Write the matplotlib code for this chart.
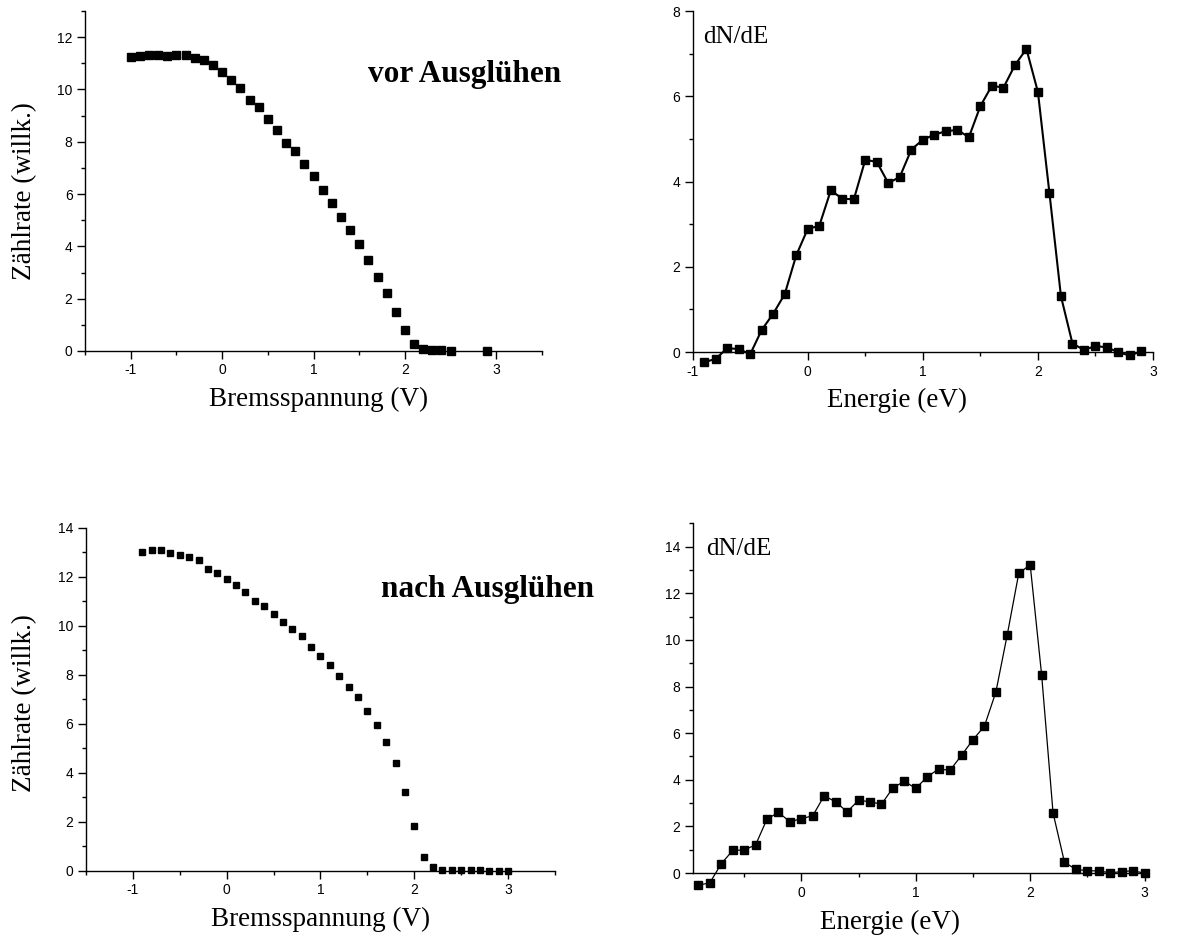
import matplotlib
matplotlib.use("Agg")
import matplotlib.pyplot as plt
from matplotlib.ticker import MultipleLocator

plt.rcParams["axes.unicode_minus"] = False

# ---- data ----
# top left: Zaehlrate vor Ausgluehen
u_vor = [-1.0, -0.9, -0.8, -0.7, -0.6, -0.5, -0.4, -0.3, -0.2, -0.1,
         0.0, 0.1, 0.2, 0.3, 0.4, 0.5, 0.6, 0.7, 0.8, 0.9,
         1.0, 1.1, 1.2, 1.3, 1.4, 1.5, 1.6, 1.7, 1.8, 1.9,
         2.0, 2.1, 2.2, 2.3, 2.4, 2.5, 2.9]
n_vor = [11.26, 11.29, 11.32, 11.33, 11.29, 11.32, 11.32, 11.22, 11.13, 10.94,
         10.67, 10.35, 10.07, 9.60, 9.34, 8.87, 8.45, 7.97, 7.65, 7.15,
         6.69, 6.14, 5.66, 5.11, 4.61, 4.09, 3.47, 2.83, 2.22, 1.49,
         0.79, 0.28, 0.06, 0.03, 0.02, 0.01, 0.01]

# top right: dN/dE vor Ausgluehen
e_vor = [-0.9, -0.8, -0.7, -0.6, -0.5, -0.4, -0.3, -0.2, -0.1,
         0.0, 0.1, 0.2, 0.3, 0.4, 0.5, 0.6, 0.7, 0.8, 0.9,
         1.0, 1.1, 1.2, 1.3, 1.4, 1.5, 1.6, 1.7, 1.8, 1.9,
         2.0, 2.1, 2.2, 2.3, 2.4, 2.5, 2.6, 2.7, 2.8, 2.9]
d_vor = [-0.24, -0.16, 0.09, 0.07, -0.05, 0.52, 0.90, 1.36, 2.27,
         2.89, 2.96, 3.79, 3.60, 3.58, 4.51, 4.46, 3.96, 4.11, 4.75,
         4.98, 5.10, 5.18, 5.21, 5.04, 5.77, 6.25, 6.20, 6.73, 7.11,
         6.10, 3.73, 1.31, 0.20, 0.05, 0.14, 0.11, -0.01, -0.08, 0.02]

# bottom left: Zaehlrate nach Ausgluehen
u_nach = [-0.9, -0.8, -0.7, -0.6, -0.5, -0.4, -0.3, -0.2, -0.1,
          0.0, 0.1, 0.2, 0.3, 0.4, 0.5, 0.6, 0.7, 0.8, 0.9,
          1.0, 1.1, 1.2, 1.3, 1.4, 1.5, 1.6, 1.7, 1.8, 1.9,
          2.0, 2.1, 2.2, 2.3, 2.4, 2.5, 2.6, 2.7, 2.8, 2.9, 3.0]
n_nach = [13.02, 13.09, 13.11, 12.99, 12.91, 12.80, 12.68, 12.34, 12.15,
          11.91, 11.69, 11.40, 11.02, 10.80, 10.49, 10.18, 9.88, 9.59, 9.14,
          8.79, 8.42, 7.97, 7.52, 7.09, 6.52, 5.95, 5.27, 4.41, 3.22,
          1.85, 0.58, 0.15, 0.06, 0.04, 0.03, 0.02, 0.02, 0.01, 0.01, 0.0]

# bottom right: dN/dE nach Ausgluehen
e_nach = u_nach
d_nach = [-0.52, -0.42, 0.40, 0.97, 0.99, 1.21, 2.32, 2.60, 2.20,
          2.33, 2.46, 3.32, 3.05, 2.63, 3.12, 3.06, 2.95, 3.65, 3.94,
          3.63, 4.13, 4.46, 4.41, 5.05, 5.72, 6.30, 7.76, 10.23, 12.85,
          13.23, 8.51, 2.58, 0.46, 0.16, 0.10, 0.09, 0.01, 0.06, 0.10, -0.01]

SANS = "Liberation Sans"
SERIF = "Liberation Serif"
TICKSIZE = 10


def style_axes(ax, xlim, ylim, xmajor, xminor, ymajor, yminor):
    """Origin-like axes: left and bottom spine only, outward ticks"""
    ax.spines["top"].set_visible(False)
    ax.spines["right"].set_visible(False)
    for s in ("left", "bottom"):
        ax.spines[s].set_linewidth(1.0)
    ax.set_xlim(*xlim)
    ax.set_ylim(*ylim)
    ax.xaxis.set_major_locator(MultipleLocator(xmajor))
    ax.xaxis.set_minor_locator(MultipleLocator(xminor))
    ax.yaxis.set_major_locator(MultipleLocator(ymajor))
    ax.yaxis.set_minor_locator(MultipleLocator(yminor))
    ax.tick_params(which="major", direction="out", length=6, width=1.0,
                   labelsize=TICKSIZE, pad=3)
    ax.tick_params(which="minor", direction="out", length=3, width=1.0)
    for lab in ax.get_xticklabels() + ax.get_yticklabels():
        lab.set_fontfamily(SANS)


fig = plt.figure(figsize=(11.91, 9.42), dpi=100)

ax1 = fig.add_axes([0.0714, 0.6274, 0.3837, 0.3609])
ax2 = fig.add_axes([0.5816, 0.6263, 0.3865, 0.3620])
ax3 = fig.add_axes([0.0722, 0.0754, 0.3938, 0.3641])
ax4 = fig.add_axes([0.5816, 0.0732, 0.3823, 0.3712])

# top left
ax1.plot(u_vor, n_vor, "s", color="black", markersize=6, clip_on=False)
style_axes(ax1, (-1.5, 3.5), (0, 13), 1, 0.5, 2, 1)
ax1.set_xlabel("Bremsspannung (V)", fontfamily=SERIF, fontsize=19.5)
ax1.xaxis.set_label_coords(0.512, -0.105)
ax1.set_ylabel("Zählrate (willk.)", fontfamily=SERIF, fontsize=19.5)
ax1.yaxis.set_label_coords(-0.105, 0.47)
ax1.text(0.62, 0.79, "vor Ausglühen", transform=ax1.transAxes,
         fontfamily=SERIF, fontsize=22.5, fontweight="bold",
         ha="left", va="baseline")

# top right
ax2.plot(e_vor, d_vor, "-s", color="black", markersize=5.5, linewidth=1.5,
         clip_on=False)
style_axes(ax2, (-1, 3), (0, 8), 1, 0.5, 2, 1)
ax2.set_xlabel("Energie (eV)", fontfamily=SERIF, fontsize=19.5)
ax2.xaxis.set_label_coords(0.444, -0.105)
ax2.text(0.023, 0.907, "dN/dE", transform=ax2.transAxes,
         fontfamily=SERIF, fontsize=18, ha="left", va="baseline")

# bottom left
ax3.plot(u_nach, n_nach, "s", color="black", markersize=5, clip_on=False)
style_axes(ax3, (-1.5, 3.5), (0, 14), 1, 0.5, 2, 1)
ax3.set_xlabel("Bremsspannung (V)", fontfamily=SERIF, fontsize=19.5)
ax3.xaxis.set_label_coords(0.5, -0.105)
ax3.set_ylabel("Zählrate (willk.)", fontfamily=SERIF, fontsize=19.5)
ax3.yaxis.set_label_coords(-0.104, 0.49)
ax3.text(0.63, 0.80, "nach Ausglühen", transform=ax3.transAxes,
         fontfamily=SERIF, fontsize=22.5, fontweight="bold",
         ha="left", va="baseline")

# bottom right
ax4.plot(e_nach, d_nach, "-s", color="black", markersize=5.5, linewidth=0.9,
         clip_on=False)
style_axes(ax4, (-0.95, 3.03), (0, 15), 1, 0.5, 2, 1)
ax4.set_xticks([0, 1, 2, 3])
ax4.set_xticks([-0.5, 0.5, 1.5, 2.5], minor=True)
for lab in ax4.get_xticklabels():
    lab.set_fontfamily(SANS)
    lab.set_fontsize(TICKSIZE)
ax4.set_xlabel("Energie (eV)", fontfamily=SERIF, fontsize=19.5)
ax4.xaxis.set_label_coords(0.434, -0.105)
ax4.text(0.03, 0.91, "dN/dE", transform=ax4.transAxes,
         fontfamily=SERIF, fontsize=18, ha="left", va="baseline")

fig.savefig("out.png", dpi=100)
